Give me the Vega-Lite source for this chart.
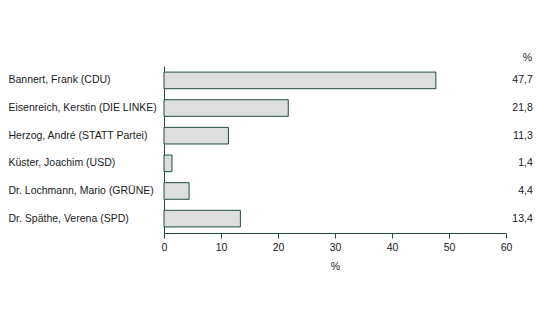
{
  "$schema": "https://vega.github.io/schema/vega-lite/v6.json",
  "autosize": {"type": "none"},
  "width": 342,
  "height": 167,
  "padding": {"left": 164, "top": 66, "right": 41, "bottom": 84},
  "background": "white",
  "title": {"text": "%", "anchor": "end", "frame": "group", "dx": 26, "offset": 3, "fontSize": 10.5, "fontWeight": "normal", "font": "Liberation Sans", "color": "#1a1a1a"},
  "config": {
    "font": "Liberation Sans",
    "view": {"stroke": null},
    "locale": {"number": {"decimal": ",", "thousands": ".", "grouping": [3], "currency": ["", " €"]}}
  },
  "data": {"values": [
    {"name": "Bannert, Frank (CDU)", "pct": 47.7},
    {"name": "Eisenreich, Kerstin (DIE LINKE)", "pct": 21.8},
    {"name": "Herzog, André (STATT Partei)", "pct": 11.3},
    {"name": "Küster, Joachim (USD)", "pct": 1.4},
    {"name": "Dr. Lochmann, Mario (GRÜNE)", "pct": 4.4},
    {"name": "Dr. Späthe, Verena (SPD)", "pct": 13.4}
  ]},
  "encoding": {
    "y": {
      "field": "name", "type": "nominal", "sort": null,
      "scale": {"paddingInner": 0.4, "paddingOuter": 0.22},
      "axis": {"title": null, "ticks": false, "tickSize": 0, "labelAlign": "left", "labelPadding": 156, "labelFontSize": 10.5, "labelColor": "#1a1a1a", "domainColor": "#1e4d3a", "domainWidth": 1, "labelLimit": 300}
    }
  },
  "layer": [
    {
      "mark": {"type": "bar", "fill": "#dedede", "stroke": "#1e4d3a", "strokeWidth": 1},
      "encoding": {
        "x": {
          "field": "pct", "type": "quantitative",
          "scale": {"domain": [0, 60], "nice": false},
          "axis": {"title": "%", "values": [0, 10, 20, 30, 40, 50, 60], "labelFlush": false, "grid": false, "tickSize": 5, "tickColor": "#1e4d3a", "domainColor": "#1e4d3a", "labelFontSize": 10.5, "labelColor": "#1a1a1a", "labelPadding": 4, "titleFontSize": 10.5, "titleFontWeight": "normal", "titleColor": "#1a1a1a", "titlePadding": 9}
        }
      }
    },
    {
      "mark": {"type": "text", "align": "right", "baseline": "middle", "fontSize": 10.5, "color": "#1a1a1a"},
      "encoding": {
        "x": {"datum": 64.7, "type": "quantitative"},
        "text": {"field": "pct", "type": "quantitative", "format": ".1f"}
      }
    }
  ]
}
